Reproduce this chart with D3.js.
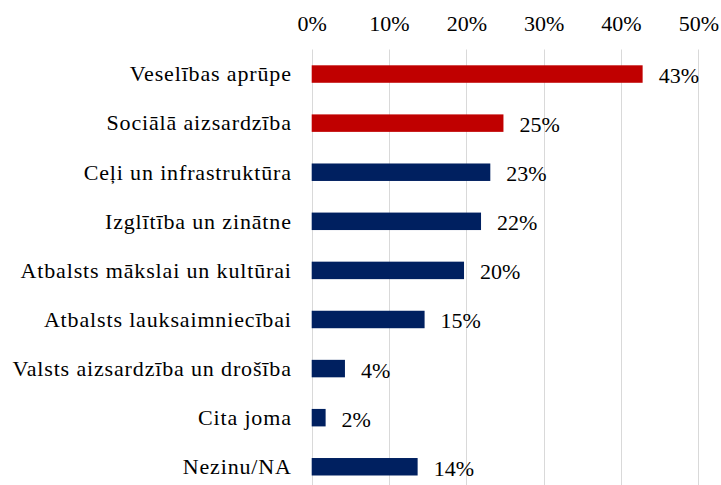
<!DOCTYPE html>
<html>
<head>
<meta charset="utf-8">
<script src="https://cdn.jsdelivr.net/npm/d3@7"></script>
<style>
  html, body { margin: 0; padding: 0; background: #fff; }
  svg { display: block; }
  text { font-family: "Liberation Serif", "Times New Roman", serif; fill: #000; }
</style>
</head>
<body>
<svg id="chart"></svg>
<script>
var categories = [
  'Veselības aprūpe',
  'Sociālā aizsardzība',
  'Ceļi un infrastruktūra',
  'Izglītība un zinātne',
  'Atbalsts mākslai un kultūrai',
  'Atbalsts lauksaimniecībai',
  'Valsts aizsardzība un drošība',
  'Cita joma',
  'Nezinu/NA'
];
var values = [42.8, 24.8, 23.1, 21.9, 19.7, 14.6, 4.3, 1.8, 13.7];
var highlighted = [true, true, false, false, false, false, false, false, false];
var tickValues = [0, 10, 20, 30, 40, 50];

(function () {
  var width = 721, height = 485;
  var plot = { left: 311.7, right: 698.3, top: 49.5, bottom: 491.3 };
  var fontSize = '22px';

  var svg = d3.select('#chart')
    .attr('width', width)
    .attr('height', height);

  var x = d3.scaleLinear().domain([0, 50]).range([plot.left, plot.right]);
  var y = d3.scaleBand().domain(categories).range([plot.top, plot.bottom])
    .paddingInner(0.644).paddingOuter(0.322);

  // vertical gridlines
  svg.append('g')
    .selectAll('line')
    .data(tickValues)
    .enter()
    .append('line')
    .attr('x1', function (d) { return Math.round(x(d)) + 0.5; })
    .attr('x2', function (d) { return Math.round(x(d)) + 0.5; })
    .attr('y1', plot.top)
    .attr('y2', height)
    .attr('stroke', '#d9d9d9')
    .attr('stroke-width', 1);

  // top axis labels
  var axis = d3.axisTop(x).tickValues(tickValues).tickSize(0).tickPadding(0)
    .tickFormat(function (d) { return d + '%'; });
  var axisG = svg.append('g')
    .attr('transform', 'translate(0,31)')
    .call(axis);
  axisG.select('.domain').remove();
  axisG.selectAll('text')
    .attr('dy', 0)
    .style('font-family', '"Liberation Serif", "Times New Roman", serif')
    .style('font-size', fontSize)
    .attr('fill', '#000');

  // bars
  svg.append('g')
    .selectAll('rect')
    .data(values)
    .enter()
    .append('rect')
    .attr('x', x(0))
    .attr('y', function (d, i) { return y(categories[i]); })
    .attr('width', function (d) { return x(d) - x(0); })
    .attr('height', y.bandwidth())
    .attr('fill', function (d, i) { return highlighted[i] ? '#c00000' : '#002060'; });

  // value labels
  svg.append('g')
    .selectAll('text')
    .data(values)
    .enter()
    .append('text')
    .attr('x', function (d) { return x(d) + 16; })
    .attr('y', function (d, i) { return y(categories[i]) + y.bandwidth() / 2 + 9; })
    .style('font-size', fontSize)
    .text(function (d) { return Math.round(d) + '%'; });

  // category labels
  svg.append('g')
    .selectAll('text')
    .data(categories)
    .enter()
    .append('text')
    .attr('x', 291.8)
    .attr('y', function (d) { return y(d) + y.bandwidth() / 2 + 7.3; })
    .attr('text-anchor', 'end')
    .style('font-size', fontSize)
    .style('letter-spacing', '0.85px')
    .text(function (d) { return d; });
})();
</script>
</body>
</html>
